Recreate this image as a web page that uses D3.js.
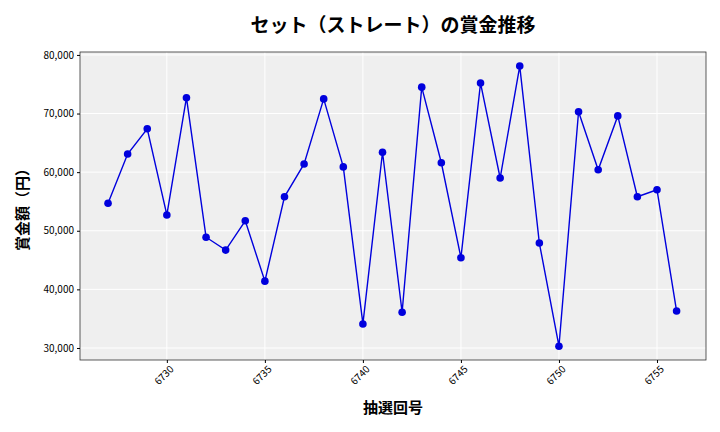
<!DOCTYPE html>
<html><head><meta charset="utf-8">
<script src="https://cdn.jsdelivr.net/npm/d3@7"></script>
<style>body{margin:0;background:#fff}text{font-family:"Noto Sans CJK JP","Noto Sans",sans-serif}</style>
</head><body><svg id="c" width="720" height="432"></svg>
<script>
var rounds = d3.range(6727, 6757);
var prizes = [54700,63100,67400,52700,72700,48900,46700,51700,41400,55800,
  61400,72500,60900,34100,63400,36100,74500,61600,45400,75200,
  59000,78100,47900,30300,70300,60400,69600,55800,57000,36300];
var xTicks = [6730,6735,6740,6745,6750,6755];
var yTicks = [30000,40000,50000,60000,70000,80000];

var svg = d3.select("#c");
var L=80, R=706, T=52, B=360;
var x = d3.scaleLinear().domain([6725.57,6757.5]).range([L,R]);
var y = d3.scaleLinear().domain([27950,80500]).range([B,T]);

svg.append("rect").attr("x",L).attr("y",T).attr("width",R-L).attr("height",B-T).attr("fill","#efefef");
svg.selectAll(".gx").data(xTicks).enter().append("line")
  .attr("x1",d=>x(d)).attr("x2",d=>x(d)).attr("y1",T).attr("y2",B).attr("stroke","#fff");
svg.selectAll(".gy").data(yTicks).enter().append("line")
  .attr("x1",L).attr("x2",R).attr("y1",d=>y(d)).attr("y2",d=>y(d)).attr("stroke","#fff");
svg.append("rect").attr("x",L).attr("y",T).attr("width",R-L).attr("height",B-T).attr("fill","none").attr("stroke","#333").attr("stroke-width",0.8);

var ya = svg.append("g").attr("transform","translate("+L+",0)")
  .call(d3.axisLeft(y).tickValues(yTicks).tickFormat(d3.format(",")).tickSize(3));
ya.select(".domain").remove();
ya.selectAll("text").attr("font-size",10).attr("fill","#000");
var xa = svg.append("g").attr("transform","translate(0,"+B+")")
  .call(d3.axisBottom(x).tickValues(xTicks).tickFormat(d3.format("d")).tickSize(3));
xa.select(".domain").remove();
xa.selectAll("text").attr("font-size",10).attr("fill","#000")
  .attr("text-anchor","end").attr("transform","rotate(-45)").attr("dx","-0.2em").attr("dy","0.6em");

svg.append("path").datum(rounds.map((r,i)=>[r,prizes[i]]))
  .attr("fill","none").attr("stroke","#0000dd").attr("stroke-width",1.4)
  .attr("d",d3.line().x(d=>x(d[0])).y(d=>y(d[1])));
svg.selectAll(".pt").data(prizes).enter().append("circle")
  .attr("cx",(d,i)=>x(rounds[i])).attr("cy",d=>y(d)).attr("r",3.8).attr("fill","#0000dd");

svg.append("text").attr("x",393).attr("y",32).attr("text-anchor","middle")
  .attr("font-size",19).attr("font-weight","bold").text("セット（ストレート）の賞金推移");
svg.append("text").attr("x",393).attr("y",413).attr("text-anchor","middle")
  .attr("font-size",15).attr("font-weight","bold").text("抽選回号");
svg.append("text").attr("transform","translate(28,206) rotate(-90)").attr("text-anchor","middle")
  .attr("font-size",15).attr("font-weight","bold").text("賞金額（円）");
</script></body></html>
